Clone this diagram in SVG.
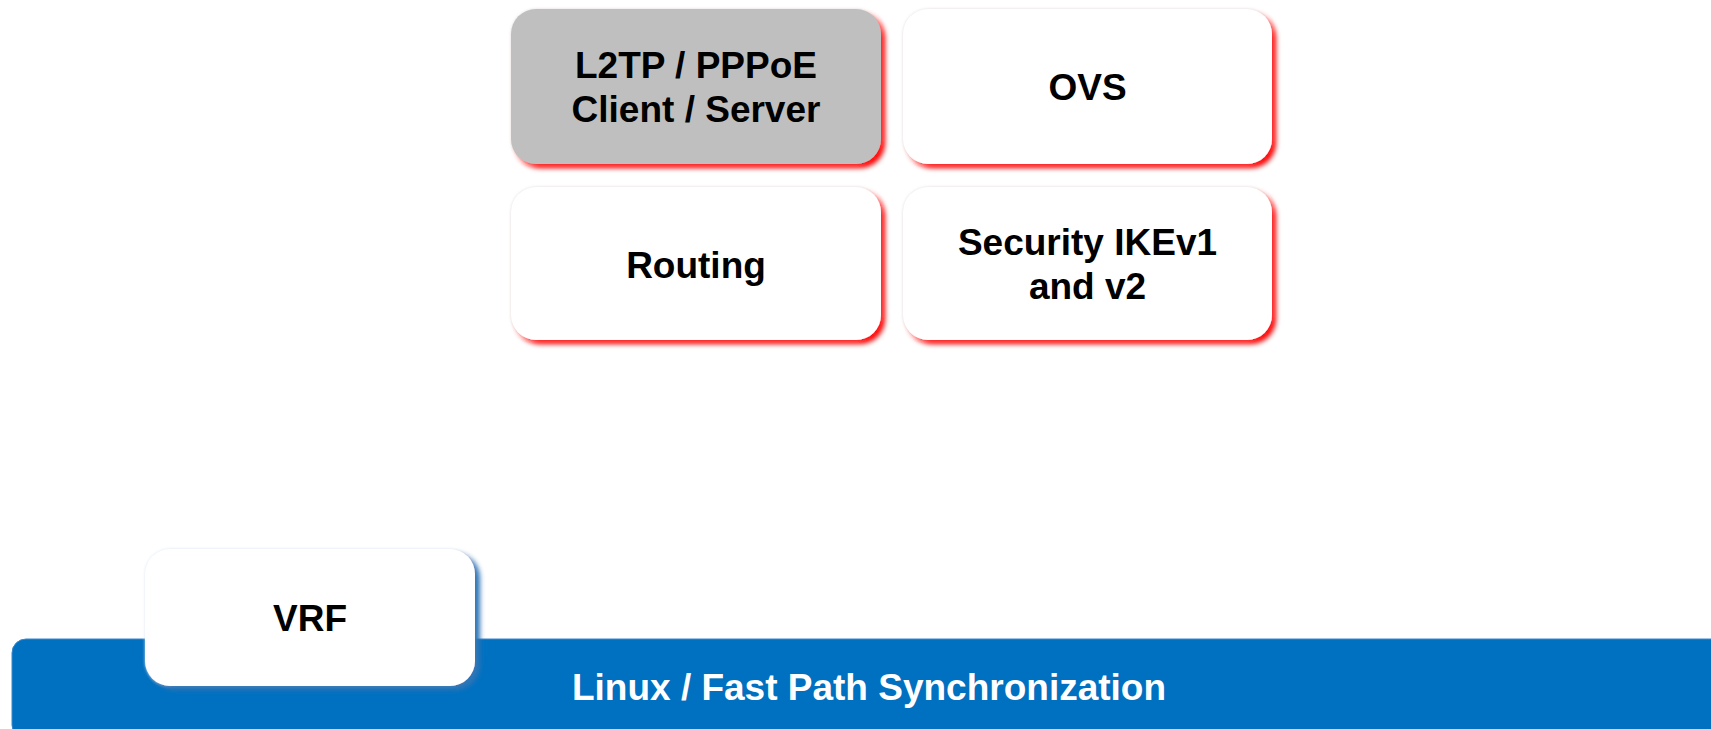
<svg xmlns="http://www.w3.org/2000/svg" width="1711" height="729" viewBox="0 0 1711 729">
  <style>
    .lbl { font-family: "Liberation Sans", Arial, sans-serif; font-weight: bold; font-size: 37px; fill: #000000; text-anchor: middle; }
    .bar-lbl { font-family: "Liberation Sans", Arial, sans-serif; font-weight: bold; font-size: 37px; fill: #FFFFFF; text-anchor: middle; }
    .box { fill: #FFFFFF; filter: url(#redShadow); }
    .box-gray { fill: #BFBFBF; filter: url(#redShadow); }
    .box-vrf { fill: #FFFFFF; filter: url(#blueShadow); }
  </style>
  <defs>
    <filter id="redShadow" x="-10%" y="-10%" width="125%" height="130%">
      <feGaussianBlur in="SourceAlpha" stdDeviation="1.5" result="b0"/>
      <feFlood flood-color="#D9D9D9" flood-opacity="0.8"/>
      <feComposite in2="b0" operator="in" result="halo"/>
      <feOffset in="SourceAlpha" dx="4" dy="4" result="off"/>
      <feGaussianBlur in="off" stdDeviation="2.5" result="blur"/>
      <feFlood flood-color="#FF0000"/>
      <feComposite in2="blur" operator="in" result="red"/>
      <feMerge>
        <feMergeNode in="halo"/>
        <feMergeNode in="red"/>
        <feMergeNode in="SourceGraphic"/>
      </feMerge>
    </filter>
    <filter id="blueShadow" x="-10%" y="-10%" width="125%" height="130%">
      <feGaussianBlur in="SourceAlpha" stdDeviation="1.5" result="b0"/>
      <feFlood flood-color="#DCE6F2" flood-opacity="0.9"/>
      <feComposite in2="b0" operator="in" result="halo"/>
      <feOffset in="SourceAlpha" dx="5" dy="4" result="off"/>
      <feGaussianBlur in="off" stdDeviation="2.5" result="blur"/>
      <feFlood flood-color="#2E75B6"/>
      <feComposite in2="blur" operator="in" result="blue"/>
      <feMerge>
        <feMergeNode in="halo"/>
        <feMergeNode in="blue"/>
        <feMergeNode in="SourceGraphic"/>
      </feMerge>
    </filter>
  </defs>

  <rect x="0" y="0" width="1711" height="729" fill="#FFFFFF"/>

  <g id="linux-bar">
    <rect x="12" y="639" width="1720" height="100" rx="14" ry="14" fill="#0070C0" stroke="#3A87CC" stroke-width="1"/>
    <text class="bar-lbl" x="869" y="700">Linux / Fast Path Synchronization</text>
  </g>

  <g id="l2tp">
    <rect class="box-gray" x="511" y="9" width="370" height="155" rx="25" ry="25"/>
    <text class="lbl" x="696" y="77.5">L2TP / PPPoE</text>
    <text class="lbl" x="696" y="121.5">Client / Server</text>
  </g>

  <g id="ovs">
    <rect class="box" x="903" y="9" width="369" height="155" rx="25" ry="25"/>
    <text class="lbl" x="1087.5" y="99.5">OVS</text>
  </g>

  <g id="routing">
    <rect class="box" x="511" y="187" width="370" height="153" rx="25" ry="25"/>
    <text class="lbl" x="696" y="277.5">Routing</text>
  </g>

  <g id="security">
    <rect class="box" x="903" y="187" width="369" height="153" rx="25" ry="25"/>
    <text class="lbl" x="1087.5" y="254.5">Security IKEv1</text>
    <text class="lbl" x="1087.5" y="298.5">and v2</text>
  </g>

  <g id="vrf">
    <rect class="box-vrf" x="145" y="549" width="330" height="137" rx="25" ry="25"/>
    <text class="lbl" x="310" y="631">VRF</text>
  </g>

  <g id="connectors"></g>
</svg>
